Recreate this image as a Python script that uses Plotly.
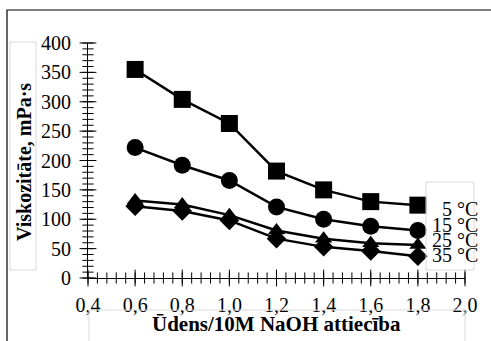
import numpy as np
import plotly.graph_objects as go

# Water / 10M NaOH ratio and viscosity (mPa·s) at four temperatures
ratio = [0.6, 0.8, 1.0, 1.2, 1.4, 1.6, 1.8]
visc_5 = [355, 304, 263, 182, 150, 130, 124]
visc_15 = [222, 192, 166, 121, 100, 88, 81]
visc_25 = [132, 125, 107, 81, 67, 59, 56]
visc_35 = [122, 114, 98, 67, 53, 46, 37]
series_names = ["5 °C", "15 °C", "25 °C", "35 °C"]
x_range = [0.4, 2.0]
y_range = [0, 400]
x_major, x_minor = 0.2, 0.04
y_major, y_minor = 50, 10

W, H = 491, 341
L, R, T, B = 88, 26, 43, 63
PW, PH = W - L - R, H - T - B
FONT = "Liberation Serif"


def px(x):
    return (x - L) / PW


def py(y):
    return (H - B - y) / PH


fig = go.Figure()

# crossing tick marks along both axes, drawn as short line markers
x_min_t = np.round(np.arange(x_range[0], x_range[1] + 1e-9, x_minor), 4)
x_maj_t = np.round(np.arange(x_range[0], x_range[1] + 1e-9, x_major), 4)
y_min_t = np.arange(y_range[0], y_range[1] + 1, y_minor)
y_maj_t = np.arange(y_range[0], y_range[1] + 1, y_major)
tick_sets = [
    (x_min_t, np.full(len(x_min_t), y_range[0]), "line-ns", 8),
    (x_maj_t, np.full(len(x_maj_t), y_range[0]), "line-ns", 12),
    (np.full(len(y_min_t), x_range[0]), y_min_t, "line-ew", 8),
    (np.full(len(y_maj_t), x_range[0]), y_maj_t, "line-ew", 12),
]
for tx, ty, sym, size in tick_sets:
    fig.add_trace(go.Scatter(
        x=tx, y=ty, mode="markers", cliponaxis=False, showlegend=False,
        hoverinfo="skip",
        marker=dict(symbol=sym, size=size, color="black",
                    line=dict(color="black", width=1)),
    ))

series = [
    (visc_5, "square", 17),
    (visc_15, "circle", 17),
    (visc_25, "triangle-up", 15),
    (visc_35, "diamond", 15),
]
for (vals, sym, size), name in zip(series, series_names):
    fig.add_trace(go.Scatter(
        x=ratio, y=vals, name=name, mode="lines+markers",
        line=dict(color="black", width=2.5),
        marker=dict(symbol=sym, size=size, color="black"),
        showlegend=False, cliponaxis=False,
    ))

tickfont = dict(family=FONT, size=20, color="black")
fig.update_layout(
    width=W, height=H,
    margin=dict(l=L, r=R, t=T, b=B),
    paper_bgcolor="white", plot_bgcolor="white",
    separators=", ",
    xaxis=dict(range=x_range, tickmode="linear", tick0=x_range[0],
               dtick=x_major, showgrid=False, zeroline=False,
               showline=True, linecolor="black", linewidth=1, ticks="",
               tickformat=".1f", tickfont=tickfont, ticklabelstandoff=9),
    yaxis=dict(range=y_range, tickmode="linear", tick0=y_range[0],
               dtick=y_major, showgrid=False, zeroline=False,
               showline=True, linecolor="black", linewidth=1, ticks="",
               tickfont=tickfont, ticklabelstandoff=12),
)

gray = "#d9d9d9"
shapes = [
    # outer chart frame
    dict(type="rect", xref="paper", yref="paper",
         x0=px(7), x1=px(W + 20), y0=py(H + 20), y1=py(10),
         line=dict(color="black", width=1.2)),
    # y title box
    dict(type="rect", xref="paper", yref="paper",
         x0=px(10), x1=px(36), y0=py(270), y1=py(42),
         line=dict(color=gray, width=1)),
    # x title box
    dict(type="rect", xref="paper", yref="paper",
         x0=px(89), x1=px(465), y0=py(H + 20), y1=py(310),
         line=dict(color=gray, width=1)),
    # series label box
    dict(type="rect", xref="paper", yref="paper",
         x0=px(426), x1=px(474), y0=py(270), y1=py(182),
         line=dict(color=gray, width=1)),
]
fig.update_layout(shapes=shapes)

annotations = [
    dict(text="<b>Viskozitāte, mPa·s</b>", xref="paper", yref="paper",
         x=px(24), y=py(162), textangle=-90, showarrow=False,
         font=dict(family=FONT, size=20, color="black"),
         xanchor="center", yanchor="middle"),
    dict(text="<b>Ūdens/10M NaOH attiecība</b>", xref="paper", yref="paper",
         x=px(276), y=py(324), showarrow=False,
         font=dict(family=FONT, size=21, color="black"),
         xanchor="center", yanchor="middle"),
]
for name, yc in zip(series_names, [209, 225, 240, 255]):
    annotations.append(dict(
        text=name, xref="paper", yref="paper", x=px(480), y=py(yc),
        showarrow=False, xanchor="right", yanchor="middle",
        font=dict(family=FONT, size=20, color="black")))
fig.update_layout(annotations=annotations)

fig.write_html("out.html")
